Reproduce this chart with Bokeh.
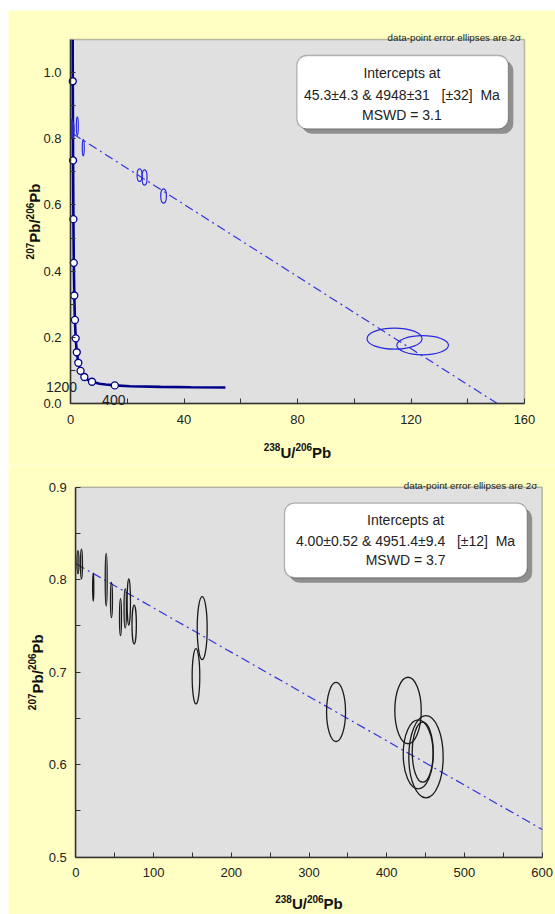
import math
from bokeh.plotting import figure
from bokeh.models import Label, BoxAnnotation, FixedTicker, PrintfTickFormatter, Range1d
from bokeh.embed import file_html
from bokeh.resources import INLINE

# ---------------- Top panel data ----------------
# concordia curve (238U/206Pb, 207Pb/206Pb), young end to ~5370 Ma
conc_x = [54.60, 42.48, 31.73, 20.99, 15.621, 12.399, 10.252, 7.568, 5.959, 4.888,
          4.123, 3.550, 3.105, 2.749, 2.217, 1.838, 1.556, 1.337, 1.163, 1.022,
          0.905, 0.806, 0.7691]
conc_y = [0.04836, 0.04904, 0.05011, 0.05233, 0.05470, 0.05722, 0.05990, 0.06580,
          0.07250, 0.08012, 0.08881, 0.09872, 0.11004, 0.12299, 0.15483, 0.19682,
          0.25242, 0.32635, 0.42501, 0.55714, 0.73464, 0.97377, 1.0993]
# concordia age ticks (Ma)
tick_age = [400, 800, 1200, 1600, 2000, 2400, 2800, 3200, 3600, 4000, 4400, 4800, 5200]
tick_x = [15.621, 7.568, 4.888, 3.550, 2.749, 2.217, 1.838, 1.556, 1.337, 1.163,
          1.022, 0.905, 0.806]
tick_y = [0.05470, 0.06580, 0.08012, 0.09872, 0.12299, 0.15483, 0.19682, 0.25242,
          0.32635, 0.42501, 0.55714, 0.73464, 0.97377]
top_disc_x = [0.87, 150.4]
top_disc_y = [0.815, 0.0]
top_ell_x = [0.5, 1.0, 2.4, 4.5, 24.35, 26.1, 32.8, 114.2, 124.1]
top_ell_y = [0.830, 0.825, 0.838, 0.773, 0.690, 0.683, 0.627, 0.196, 0.176]
top_ell_w = [0.5, 0.5, 0.7, 0.7, 1.76, 1.76, 2.0, 19.4, 18.2]
top_ell_h = [0.060, 0.050, 0.056, 0.050, 0.038, 0.046, 0.043, 0.064, 0.058]
top_result = ["Intercepts at", "45.3±4.3 & 4948±31\u00a0\u00a0 [±32]\u00a0 Ma", "MSWD = 3.1"]
top_x_ticks = [0, 40, 80, 120, 160]
top_x_minor = [20, 60, 100, 140]
top_y_ticks = [0.0, 0.2, 0.4, 0.6, 0.8, 1.0]
top_y_minor = [0.1, 0.3, 0.5, 0.7, 0.9]

# ---------------- Bottom panel data ----------------
bot_disc_x = [0.87, 600.0]
bot_disc_y = [0.817, 0.530]
bot_ell_x = [2.8, 7.3, 22.4, 39.1, 45.9, 57.5, 63.6, 68.2, 75.1, 162.6, 154.6,
             334.8, 427.4, 440.5, 450.5, 446.3]
bot_ell_y = [0.819, 0.817, 0.792, 0.800, 0.778, 0.7595, 0.769, 0.776, 0.7515, 0.7476,
             0.6956, 0.657, 0.6586, 0.6112, 0.6086, 0.6135]
bot_ell_w = [2.5, 2.5, 1.5, 2.5, 2.5, 2.5, 3.0, 4.3, 5.6, 12.8, 9.8,
             24.4, 34.0, 38.6, 44.2, 27.0]
bot_ell_h = [0.025, 0.032, 0.030, 0.057, 0.038, 0.040, 0.042, 0.050, 0.042, 0.068,
             0.060, 0.064, 0.072, 0.0746, 0.089, 0.065]
bot_result = ["Intercepts at", "4.00±0.52 & 4951.4±9.4\u00a0\u00a0 [±12]\u00a0 Ma", "MSWD = 3.7"]
bot_x_ticks = [0, 100, 200, 300, 400, 500, 600]
bot_x_minor = [50, 150, 250, 350, 450, 550]
bot_y_ticks = [0.5, 0.6, 0.7, 0.8, 0.9]
bot_y_minor = [0.55, 0.65, 0.75, 0.85]

ellipse_note = "data-point error ellipses are 2σ"
x_title = [("238", True), ("U/", False), ("206", True), ("Pb", False)]
y_title = [("207", True), ("Pb/", False), ("206", True), ("Pb", False)]

FONT = "Liberation Sans"
YELLOW = "#ffffc4"
PANEL = "#e0e0e0"
TXT = "#222222"
BIG, SMALL = 15, 10
# Arial-bold advance widths (em)
ADV = {"0": .556, "1": .556, "2": .556, "3": .556, "4": .556, "5": .556, "6": .556,
       "7": .556, "8": .556, "9": .556, "U": .722, "/": .278, "P": .667, "b": .611}


def text_w(s, size):
    return sum(ADV[c] for c in s) * size


def make_fig(w, h, a_left, a_top, a_w, a_h, xr, yr, xt, xm, yt, ym):
    # the whole canvas is the frame; the grey plot area is an annotation box
    sx = a_w / (xr[1] - xr[0])
    sy = a_h / (yr[1] - yr[0])
    x0 = xr[0] - a_left / sx
    x1 = xr[1] + (w - a_left - a_w) / sx
    y1 = yr[1] + a_top / sy
    y0 = yr[0] - (h - a_top - a_h) / sy
    p = figure(width=w, height=h, x_range=Range1d(x0, x1), y_range=Range1d(y0, y1),
               output_backend="svg", toolbar_location=None,
               min_border_left=0, min_border_right=0, min_border_top=0, min_border_bottom=0)
    p.background_fill_color = YELLOW
    p.border_fill_color = YELLOW
    p.outline_line_color = None
    p.grid.visible = False
    p.add_layout(BoxAnnotation(left=xr[0], right=xr[1], bottom=yr[0], top=yr[1],
                               fill_color=PANEL, fill_alpha=1.0, line_color="#333333",
                               line_width=1.5, level="underlay"))
    p.xaxis.ticker = FixedTicker(ticks=xt, minor_ticks=xm)
    p.yaxis.ticker = FixedTicker(ticks=yt, minor_ticks=ym)
    p.yaxis.formatter = PrintfTickFormatter(format="%.1f")
    p.xaxis.fixed_location = yr[0]
    p.yaxis.fixed_location = xr[0]
    p.xaxis.bounds = xr
    p.yaxis.bounds = yr
    for ax in p.axis:
        ax.axis_line_color = "#333333"
        ax.axis_line_width = 1.5
        ax.major_tick_in = 5
        ax.major_tick_out = 0
        ax.minor_tick_in = 5
        ax.minor_tick_out = 0
        ax.major_tick_line_color = "#333333"
        ax.minor_tick_line_color = "#333333"
        ax.major_label_text_font = FONT
        ax.major_label_text_font_size = "13px"
        ax.major_label_text_color = TXT
    p.xaxis.major_label_standoff = 11
    p.yaxis.major_label_standoff = 9
    return p


def add_title(p, pieces, x, y, base_off, vertical):
    total = sum(text_w(t, SMALL if s else BIG) for t, s in pieces)
    pos = -total / 2
    for t, s in pieces:
        size = SMALL if s else BIG
        perp = 5 if s else 0
        if vertical:
            xo, yo, ang = base_off - perp, pos, math.pi / 2
        else:
            xo, yo, ang = pos, base_off + perp, 0
        p.add_layout(Label(x=x, y=y, x_offset=xo, y_offset=yo, angle=ang, text=t,
                           text_align="left", text_baseline="alphabetic",
                           text_font=FONT, text_font_size=f"{size}px",
                           text_font_style="bold", text_color="#111111"))
        pos += text_w(t, size)


def result_box(p, left, right, bottom, top, dx, dy, cx, ys, lines):
    p.add_layout(BoxAnnotation(left=left + dx, right=right + dx, bottom=bottom - dy, top=top - dy,
                               fill_color="#8f8f8f", fill_alpha=1.0, line_alpha=0,
                               border_radius=10))
    p.add_layout(BoxAnnotation(left=left, right=right, bottom=bottom, top=top,
                               fill_color="white", fill_alpha=1.0, line_color="#222222",
                               line_width=1.3, border_radius=10))
    for yy, t in zip(ys, lines):
        p.add_layout(Label(x=cx, y=yy, text=t, text_align="center", text_baseline="middle",
                           text_font=FONT, text_font_size="14px", text_color=TXT))


def add_note(p, x, y):
    p.add_layout(Label(x=x, y=y, y_offset=2, text=ellipse_note, text_align="right",
                       text_baseline="alphabetic", text_font=FONT, text_font_size="9.8px",
                       text_color=TXT))


# ---------------- Top figure ----------------
p1 = make_fig(547, 455, 62, 29, 454, 364, (0, 160), (0, 1.1),
              top_x_ticks, top_x_minor, top_y_ticks, top_y_minor)
p1.styles = {"margin-left": "8px", "margin-top": "10px"}

p1.line(top_disc_x, top_disc_y, line_color="#3333dd", line_width=1.2, line_dash="9 4 2 4")
p1.line(conc_x, conc_y, line_color="#000088", line_width=2.6)
p1.ellipse(x=top_ell_x, y=top_ell_y, width=top_ell_w, height=top_ell_h,
           fill_alpha=0, line_color="#2a2ae0", line_width=1.2)
p1.scatter(tick_x, tick_y, size=7, marker="circle", fill_color="white",
           line_color="#000088", line_width=1.3)

p1.add_layout(Label(x=-3.17, y=0.0493, text=str(tick_age[2]), text_align="center",
                    text_baseline="middle", text_font=FONT, text_font_size="14px",
                    text_color=TXT))
p1.add_layout(Label(x=15.25, y=0.0091, text=str(tick_age[0]), text_align="center",
                    text_baseline="middle", text_font=FONT, text_font_size="14px",
                    text_color=TXT))
add_note(p1, 158.8, 1.1)
result_box(p1, 79.8, 154.3, 0.8302, 1.0517, 1.76, 0.0151, 116.8,
           [0.9975, 0.933, 0.8727], top_result)
add_title(p1, x_title, 80, 0.0, -48.7, False)
add_title(p1, y_title, 0, 0.55, -36, True)

# ---------------- Bottom figure ----------------
p2 = make_fig(547, 449, 67.3, 21.7, 466.4, 370, (0, 600), (0.5, 0.9),
              bot_x_ticks, bot_x_minor, bot_y_ticks, bot_y_minor)
p2.styles = {"margin-left": "8px"}

p2.line(bot_disc_x, bot_disc_y, line_color="#3333dd", line_width=1.2, line_dash="9 4 2 4")
p2.ellipse(x=bot_ell_x, y=bot_ell_y, width=bot_ell_w, height=bot_ell_h,
           fill_alpha=0, line_color="#1a1a1a", line_width=1.3)
add_note(p2, 593.6, 0.9)
result_box(p2, 268.5, 580.7, 0.8021, 0.8827, 6.4, 0.0054, 424.2,
           [0.8648, 0.8413, 0.8208], bot_result)
add_title(p2, x_title, 300, 0.5, -46.5, False)
add_title(p2, y_title, 0, 0.7, -38.6, True)

open("out.html", "w").write(file_html([p1, p2], INLINE))
